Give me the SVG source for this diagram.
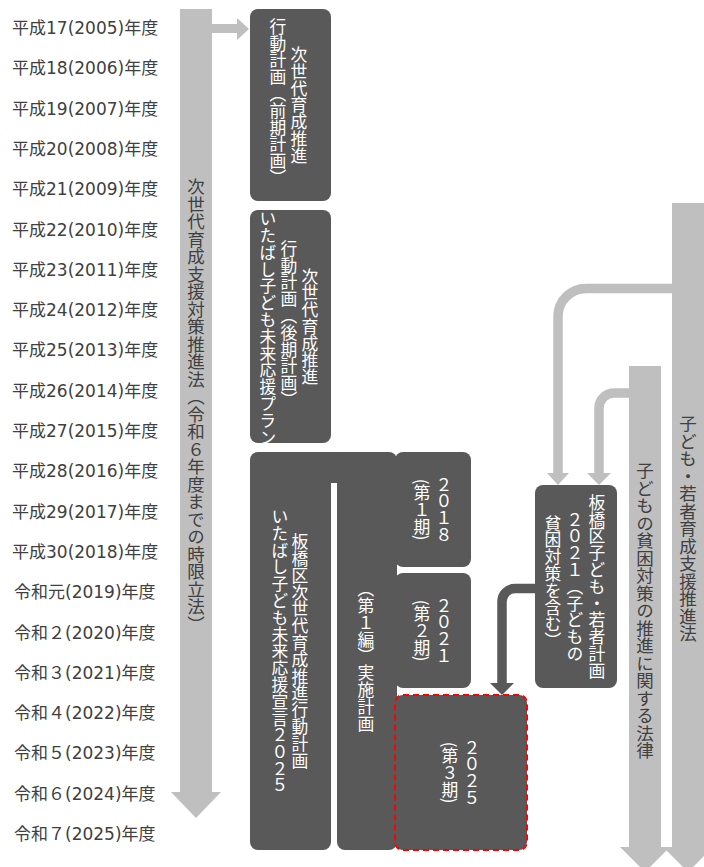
<svg xmlns="http://www.w3.org/2000/svg" width="704" height="867" viewBox="0 0 704 867">
<style>
.yr{font-family:"DejaVu Sans","Noto Sans CJK JP",sans-serif;font-size:17px;fill:#404040;dominant-baseline:central}
.vt{font-family:"Noto Sans CJK JP",sans-serif;writing-mode:vertical-rl;text-anchor:middle}
.wt{fill:#FFFFFF;font-size:16.8px}
.dt{fill:#404040;font-size:17.5px;text-anchor:start}
.box{fill:#595959}
.bar{fill:#BFBFBF}
.lc{fill:none;stroke:#BFBFBF;stroke-width:9.5}
.dc{fill:none;stroke:#595959;stroke-width:9.5}
</style>
<rect width="704" height="867" fill="#FFFFFF"/>
<g id="years">
<text class="yr" x="12" y="28">平成17(2005)年度</text>
<text class="yr" x="12" y="68.3">平成18(2006)年度</text>
<text class="yr" x="12" y="108.6">平成19(2007)年度</text>
<text class="yr" x="12" y="148.9">平成20(2008)年度</text>
<text class="yr" x="12" y="189.2">平成21(2009)年度</text>
<text class="yr" x="12" y="229.5">平成22(2010)年度</text>
<text class="yr" x="12" y="269.8">平成23(2011)年度</text>
<text class="yr" x="12" y="310.1">平成24(2012)年度</text>
<text class="yr" x="12" y="350.4">平成25(2013)年度</text>
<text class="yr" x="12" y="390.7">平成26(2014)年度</text>
<text class="yr" x="12" y="431">平成27(2015)年度</text>
<text class="yr" x="12" y="471.3">平成28(2016)年度</text>
<text class="yr" x="12" y="511.6">平成29(2017)年度</text>
<text class="yr" x="12" y="551.9">平成30(2018)年度</text>
<text class="yr" x="14" y="592.2">令和元(2019)年度</text>
<text class="yr" x="14" y="632.5">令和２(2020)年度</text>
<text class="yr" x="14" y="672.8">令和３(2021)年度</text>
<text class="yr" x="14" y="713.1">令和４(2022)年度</text>
<text class="yr" x="14" y="753.4">令和５(2023)年度</text>
<text class="yr" x="14" y="793.7">令和６(2024)年度</text>
<text class="yr" x="14" y="834">令和７(2025)年度</text>
</g>
<g id="law-jisedai">
<path class="bar" d="M180,9 H212 V24 H237 V18 L249,29 L237,40 V33 H212 V792 H221 L196,818 L171,792 H180 Z"/>
<text class="vt dt" x="196" y="178">次世代育成支援対策推進法（令和６年度までの時限立法）</text>
</g>
<g id="law-hinkon">
<path class="bar" d="M629,366 H661 V847 H670 L645,872 L620,847 H629 Z"/>
<text class="vt dt" x="645" y="462">子どもの貧困対策の推進に関する法律</text>
</g>
<g id="law-wakamono">
<path class="bar" d="M672,203 H704 V847 H713 L688,872 L663,847 H672 Z"/>
<text class="vt dt" x="688" y="415">子ども・若者育成支援推進法</text>
</g>
<g id="connectors">
<path class="lc" d="M673,288.5 H586 A28,28 0 0 0 558,316.5 V474"/>
<polygon class="bar" points="547,473 569,473 558,485"/>
<path class="lc" d="M630,393 H614 A15,15 0 0 0 599,408 V474"/>
<polygon class="bar" points="587,473 611,473 599,485"/>
<path class="dc" d="M536,588.5 H515 A13,13 0 0 0 502,601.5 V684"/>
<polygon class="box" points="490,683 514,683 502,695"/>
</g>
<g id="plan-zenki">
<rect class="box" x="250" y="9" width="81" height="192" rx="8"/>
<text class="vt wt" x="299" y="105">次世代育成推進</text>
<text class="vt wt" x="278" y="102">行動計画（前期計画）</text>
</g>
<g id="plan-kouki">
<rect class="box" x="250" y="210" width="81" height="233" rx="8"/>
<text class="vt wt" x="310" y="326.5">次世代育成推進</text>
<text class="vt wt" x="289" y="324">行動計画（後期計画）</text>
<text class="vt wt" x="268" y="328">いたばし子ども未来応援プラン</text>
</g>
<g id="plan-2025">
<rect class="box" x="250" y="452" width="81" height="398" rx="8"/>
<rect class="box" x="320" y="452" width="30" height="31"/>
<text class="vt wt" x="300" y="651">板橋区次世代育成推進行動計画</text>
<text class="vt wt" x="280" y="651">いたばし子ども未来応援宣言２０２５</text>
</g>
<g id="plan-jisshi">
<rect class="box" x="337" y="452" width="60" height="398" rx="8"/>
<text class="vt wt" x="366" y="656">（第１編）実施計画</text>
</g>
<g id="period-1">
<rect class="box" x="395" y="452" width="76" height="115" rx="8"/>
<text class="vt wt" x="444" y="509.5">２０１８</text>
<text class="vt wt" x="422" y="509.5">(第１期)</text>
</g>
<g id="period-2">
<rect class="box" x="395" y="573" width="76" height="115" rx="8"/>
<text class="vt wt" x="444" y="630.5">２０２１</text>
<text class="vt wt" x="422" y="630.5">(第２期)</text>
</g>
<g id="period-3">
<rect class="box" x="395" y="695" width="132" height="155" rx="8" stroke="#FF0000" stroke-width="2" stroke-dasharray="6,4"/>
<text class="vt wt" x="472" y="772.5">２０２５</text>
<text class="vt wt" x="450" y="772.5">(第３期)</text>
</g>
<g id="plan-wakamono">
<rect class="box" x="535" y="485" width="82" height="203" rx="8"/>
<text class="vt wt" x="597" y="586.5">板橋区子ども・若者計画</text>
<text class="vt wt" x="575" y="586.5">２０２１（子どもの</text>
<text class="vt wt" x="553" y="582">貧困対策を含む）</text>
</g>
</svg>
